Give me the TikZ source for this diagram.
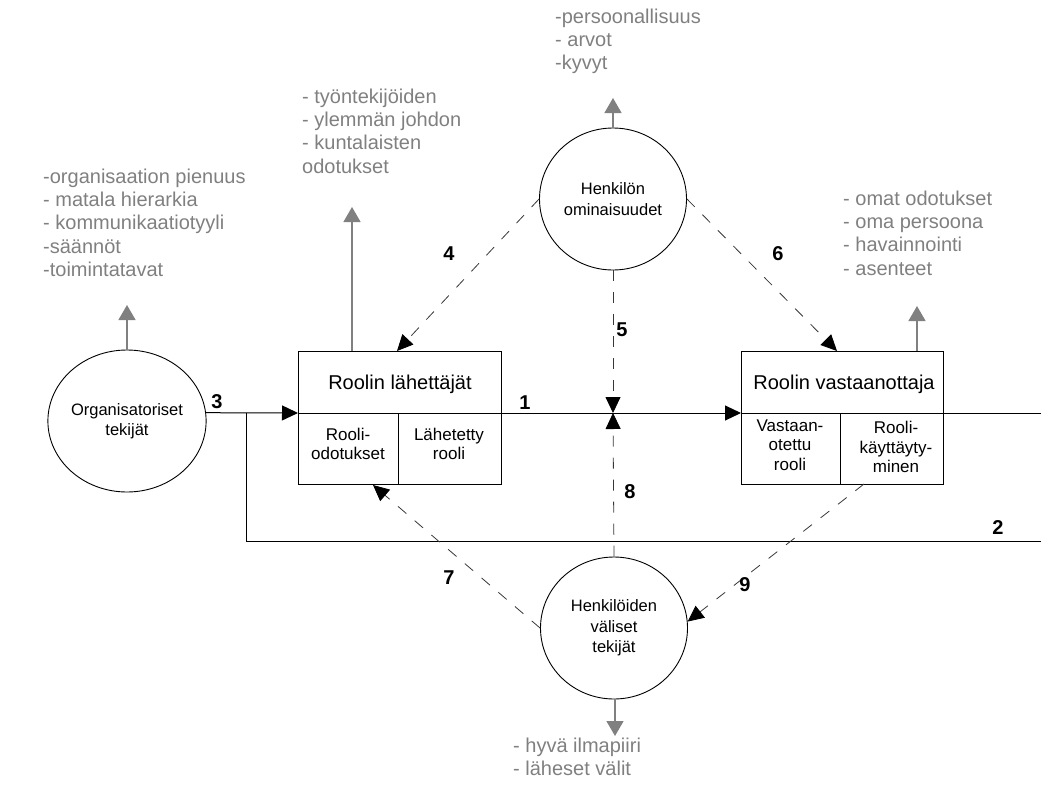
\documentclass[tikz,border=0pt]{standalone}
\usepackage{fontspec}
\setmainfont{Liberation Sans}
\usetikzlibrary{arrows.meta,shapes.geometric}
\definecolor{notegray}{RGB}{128,128,128}
\definecolor{dashgray}{RGB}{55,55,55}
\begin{document}
\begin{tikzpicture}[x=1pt,y=-1pt,
  factor/.style={draw, ellipse, line width=0.9pt, minimum width=147pt, minimum height=142pt,
    inner sep=0pt, align=center, font=\fontsize{16.5}{20.5}\selectfont},
  rolebox/.style={draw, rectangle, line width=1pt, inner sep=0pt},
  boxtitle/.style={anchor=base, inner sep=0pt, font=\fontsize{20}{23}\selectfont},
  cell/.style={align=center, inner sep=0pt, font=\fontsize{17}{19.5}\selectfont},
  flow/.style={line width=1pt, -{Triangle[length=16pt,width=15pt]}},
  plainline/.style={line width=1pt},
  influence/.style={line width=0.8pt, dashgray, dash pattern=on 11pt off 11pt,
    -{Triangle[length=16pt,width=15pt,color=black]}},
  note/.style={notegray, anchor=north west, inner sep=0pt, align=left,
    font=\fontsize{20}{23.3}\selectfont},
  outward/.style={notegray, line width=1.3pt, -{Triangle[length=15pt,width=17pt]}},
  num/.style={inner sep=0pt, font=\fontsize{20}{20}\bfseries\selectfont}
]
\useasboundingbox (0,0) rectangle (1041,787);

% factor circles
\node[factor] (org)  at (127,421) {Organisatoriset\\tekijät};
\node[factor] (henk) at (613,199) {Henkilön\\ominaisuudet};
\node[factor] (vali) at (614,628) {Henkilöiden\\väliset\\tekijät};

% role boxes
\node[rolebox, minimum width=203pt, minimum height=133pt] (b1) at (399.5,417.5) {};
\node[rolebox, minimum width=202pt, minimum height=133pt] (b2) at (842,417.5) {};

% points on the main line and box edges
\coordinate (b1in)  at (298,413);
\coordinate (b1out) at (501,413);
\coordinate (b1div) at (398,413);
\coordinate (b1bot) at (398,484);
\coordinate (b2in)  at (741,413);
\coordinate (b2out) at (943,413);
\coordinate (b2div) at (840,413);
\coordinate (b2bot) at (840,484);
\coordinate (cross) at (613,413);
\coordinate (junc)  at (246,413);
\coordinate (corner) at (246,541);
\coordinate (rightlow) at (1041,541);
\coordinate (righthigh) at (1041,413);
\coordinate (b1top4) at (397,351);
\coordinate (b2top6) at (837,351);
\coordinate (b1bot7) at (373,485);
\coordinate (b2bot9) at (864,484);

% box dividers
\draw[plainline] (b1in) -- (b1out);
\draw[plainline] (b1div) -- (b1bot);
\draw[plainline] (b2in) -- (b2out);
\draw[plainline] (b2div) -- (b2bot);

% box texts
\node[boxtitle] (t1) at (400,389) {Roolin lähettäjät};
\node[boxtitle] (t2) at (844,389) {Roolin vastaanottaja};
\node[cell] (c11) at (348,444) {Rooli-\\odotukset};
\node[cell] (c12) at (449,444) {Lähetetty\\rooli};
\node[cell] (c21) at (790,445) {Vastaan-\\otettu\\rooli};
\node[cell] (c22) at (896,447) {Rooli-\\käyttäyty-\\minen};

% main flow
\draw[flow] (org.6.5) -- (b1in);
\draw[flow] (b1out) -- (b2in);
\draw[plainline] (b2out) -- (righthigh);
\draw[plainline] (junc) -- (corner) -- (rightlow);

% dashed influences
\draw[influence] (henk.west) -- (b1top4);
\draw[influence] (henk.east) -- (b2top6);
\draw[influence] (henk.south) -- (cross);
\draw[influence] (vali.north) -- (cross);
\draw[influence] (vali.west) -- (b1bot7);
\draw[influence] (b2bot9) -- (vali.5);

% outward arrows to the lists
\coordinate (g1) at (127,305);
\coordinate (g2) at (352,207);
\coordinate (g3) at (613,98);
\coordinate (g4) at (917,306);
\coordinate (g5) at (615,736);
\draw[outward] (org.north) -- (g1);
\draw[outward] (g2 |- b1.north) -- (g2);
\draw[outward] (henk.north) -- (g3);
\draw[outward] (g4 |- b2.north) -- (g4);
\draw[outward] (g5 |- vali.south) -- (g5);

% lists
\node[note] (n1) at (43,166.7) {\strut-organisaation pienuus\\- matala hierarkia\\- kommunikaatiotyyli\\-säännöt\\-toimintatavat};
\node[note] (n2) at (302,86.7) {\strut- työntekijöiden\\- ylemmän johdon\\- kuntalaisten\\odotukset};
\node[note] (n3) at (555,6.7) {\strut-persoonallisuus\\- arvot\\-kyvyt};
\node[note] (n4) at (843,188.7) {\strut- omat odotukset\\- oma persoona\\- havainnointi\\- asenteet};
\node[note] (n5) at (513,735.7) {\strut- hyvä ilmapiiri\\- läheset välit};

% link numbers
\node[num] (l1) at (525,403) {1};
\node[num] (l2) at (998,528) {2};
\node[num] (l3) at (217,402) {3};
\node[num] (l4) at (449,254) {4};
\node[num] (l5) at (622,330) {5};
\node[num] (l6) at (778,254) {6};
\node[num] (l7) at (449,578) {7};
\node[num] (l8) at (630,492) {8};
\node[num] (l9) at (745,585) {9};
\end{tikzpicture}
\end{document}
